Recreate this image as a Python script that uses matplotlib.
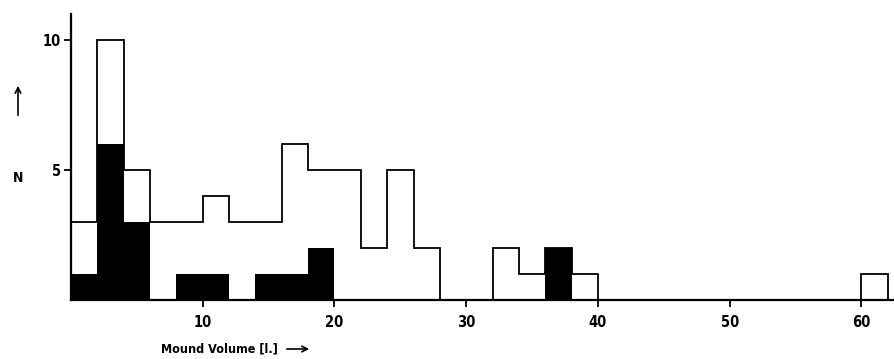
import matplotlib
matplotlib.use("Agg")
import matplotlib.pyplot as plt
import numpy as np

# Data: histogram of mound volumes, bin width 2 l
bin_edges = [0, 2, 4, 6, 8, 10, 12, 14, 16, 18, 20, 22, 24, 26, 28, 30, 32, 34, 36, 38, 40,
             42, 44, 46, 48, 50, 52, 54, 56, 58, 60, 62]
total_counts = [3, 10, 5, 3, 3, 4, 3, 3, 6, 5, 5, 2, 5, 2, 0, 0, 2, 1, 2, 1,
                0, 0, 0, 0, 0, 0, 0, 0, 0, 0, 1]
black_counts = [1, 6, 3, 0, 1, 1, 0, 1, 1, 2, 0, 0, 0, 0, 0, 0, 0, 0, 2, 0,
                0, 0, 0, 0, 0, 0, 0, 0, 0, 0, 0]
x_ticks = [10, 20, 30, 40, 50, 60]
y_ticks = [5, 10]

plt.rcParams['font.family'] = ['DejaVu Sans']
plt.rcParams['font.stretch'] = 'condensed'

W, H = 894, 359
fig = plt.figure(figsize=(W / 100, H / 100), dpi=100)
ax = fig.add_axes([71 / W, (H - 300) / H, 822 / W, 286 / H])

ax.stairs(black_counts, bin_edges, fill=True, color='black', linewidth=0)
ax.stairs(total_counts, bin_edges, fill=False, color='black', linewidth=1.3)

ax.set_xlim(0, 62.4)
ax.set_ylim(0, 11.0)
for s in ['top', 'right']:
    ax.spines[s].set_visible(False)
for s in ['left', 'bottom']:
    ax.spines[s].set_linewidth(1.6)

ax.set_xticks(x_ticks)
ax.set_yticks(y_ticks)
ax.set_xticklabels([str(v) for v in x_ticks], fontsize=10.5, fontweight='bold', stretch='condensed')
ax.set_yticklabels([str(v) for v in y_ticks], fontsize=10.5, fontweight='bold', stretch='condensed')
ax.tick_params(axis='x', direction='out', length=5, width=1.3, pad=6)
ax.tick_params(axis='y', direction='out', length=5, width=1.3, pad=2)

# Axis labels with arrows
fig.text(18 / W, 1 - 178 / H, 'N', fontsize=10, fontweight='bold', stretch='condensed',
         ha='center', va='center')
fig.add_artist(matplotlib.patches.FancyArrowPatch((18 / W, 1 - 118 / H), (18 / W, 1 - 83 / H),
               transform=fig.transFigure, arrowstyle='->', mutation_scale=10, lw=1.2, color='black'))
fig.text(161 / W, 1 - 349 / H, 'Mound Volume [l.]', fontsize=9, fontweight='bold',
         stretch='condensed', ha='left', va='center')
fig.add_artist(matplotlib.patches.FancyArrowPatch((284 / W, 1 - 349 / H), (312 / W, 1 - 349 / H),
               transform=fig.transFigure, arrowstyle='->', mutation_scale=10, lw=1.2, color='black'))

fig.savefig('out.png', dpi=100)
